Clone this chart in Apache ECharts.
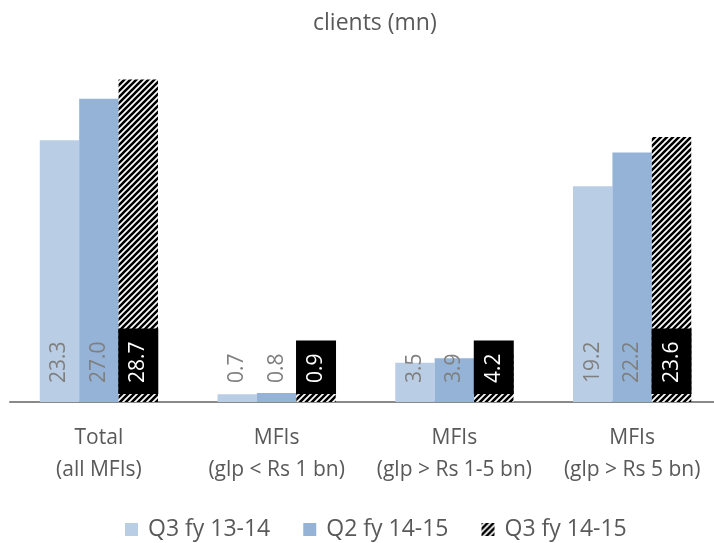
<!DOCTYPE html>
<html>
<head>
<meta charset="utf-8">
<script src="https://cdn.jsdelivr.net/npm/echarts@6/dist/echarts.min.js"></script>
<style>
  html, body { margin: 0; padding: 0; background: #fff; }
  #chart { width: 714px; height: 543px; }
</style>
</head>
<body>
<div id="chart"></div>
<script>
// Client counts (millions) by MFI size band
const categories = ['Total\n(all MFIs)', 'MFIs\n(glp < Rs 1 bn)', 'MFIs\n(glp > Rs 1-5 bn)', 'MFIs\n(glp > Rs 5 bn)'];
const seriesNames = ['Q3 fy 13-14', 'Q2 fy 14-15', 'Q3 fy 14-15'];
const q3fy1314 = [23.3, 0.7, 3.5, 19.2];
const q2fy1415 = [27.0, 0.8, 3.9, 22.2];
const q3fy1415 = [28.7, 0.9, 4.2, 23.6];

// Diagonal black/white hatch tile for the latest quarter
function hatchTile() {
  const s = 6;
  const c = document.createElement('canvas');
  c.width = s; c.height = s;
  const g = c.getContext('2d');
  g.fillStyle = '#fff';
  g.fillRect(0, 0, s, s);
  g.strokeStyle = '#000';
  g.lineWidth = 2.6;
  g.beginPath();
  for (let k = -1; k <= 1; k++) {
    g.moveTo(k * s - 1, s + 1);
    g.lineTo(k * s + s + 1, -1);
  }
  g.stroke();
  return c;
}

const FONT = '"Open Sans", sans-serif';

function baseLabel(color, bg) {
  return {
    show: true,
    position: 'insideBottom',
    distance: 8,
    rotate: 90,
    align: 'left',
    verticalAlign: 'middle',
    fontFamily: FONT,
    fontSize: 21,
    lineHeight: 22,
    color: color,
    backgroundColor: bg || 'transparent',
    padding: [9, 13, 9, 11],
    formatter: p => p.value.toFixed(1)
  };
}

const chart = echarts.init(document.getElementById('chart'));
chart.setOption({
  animation: false,
  backgroundColor: '#fff',
  title: {
    text: 'clients (mn)',
    left: 308,
    top: 7,
    textStyle: { fontFamily: FONT, fontSize: 23, fontWeight: 'normal', color: '#595959' }
  },
  legend: {
    bottom: 2,
    left: 125,
    padding: 0,
    itemWidth: 13,
    itemHeight: 13,
    itemGap: 33,
    icon: 'rect',
    textStyle: { fontFamily: FONT, fontSize: 23, color: '#595959', padding: [0, 0, 0, 5] },
    data: seriesNames
  },
  grid: { left: 10, width: 711, top: 65, bottom: 141, containLabel: false, outerBoundsMode: 'none' },
  xAxis: {
    type: 'category',
    data: categories,
    axisLine: { lineStyle: { color: '#898989', width: 2 } },
    axisTick: { show: false },
    axisLabel: {
      fontFamily: FONT, fontSize: 21, lineHeight: 32, color: '#595959', margin: 20,
      interval: 0
    }
  },
  yAxis: { type: 'value', min: 0, max: 30, show: false, splitLine: { show: false } },
  series: [
    {
      name: seriesNames[0], type: 'bar', data: q3fy1314,
      barGap: '0%', barCategoryGap: '33.5%',
      itemStyle: { color: '#B9CDE5' },
      label: baseLabel('#7F7F7F')
    },
    {
      name: seriesNames[1], type: 'bar', data: q2fy1415,
      barGap: '0%', barCategoryGap: '33.5%',
      itemStyle: { color: '#95B3D7' },
      label: baseLabel('#7F7F7F')
    },
    {
      name: seriesNames[2], type: 'bar', data: q3fy1415,
      barGap: '0%', barCategoryGap: '33.5%',
      itemStyle: { color: { image: hatchTile(), repeat: 'repeat' } },
      label: baseLabel('#FFFFFF', '#000000')
    }
  ]
});
</script>
</body>
</html>
